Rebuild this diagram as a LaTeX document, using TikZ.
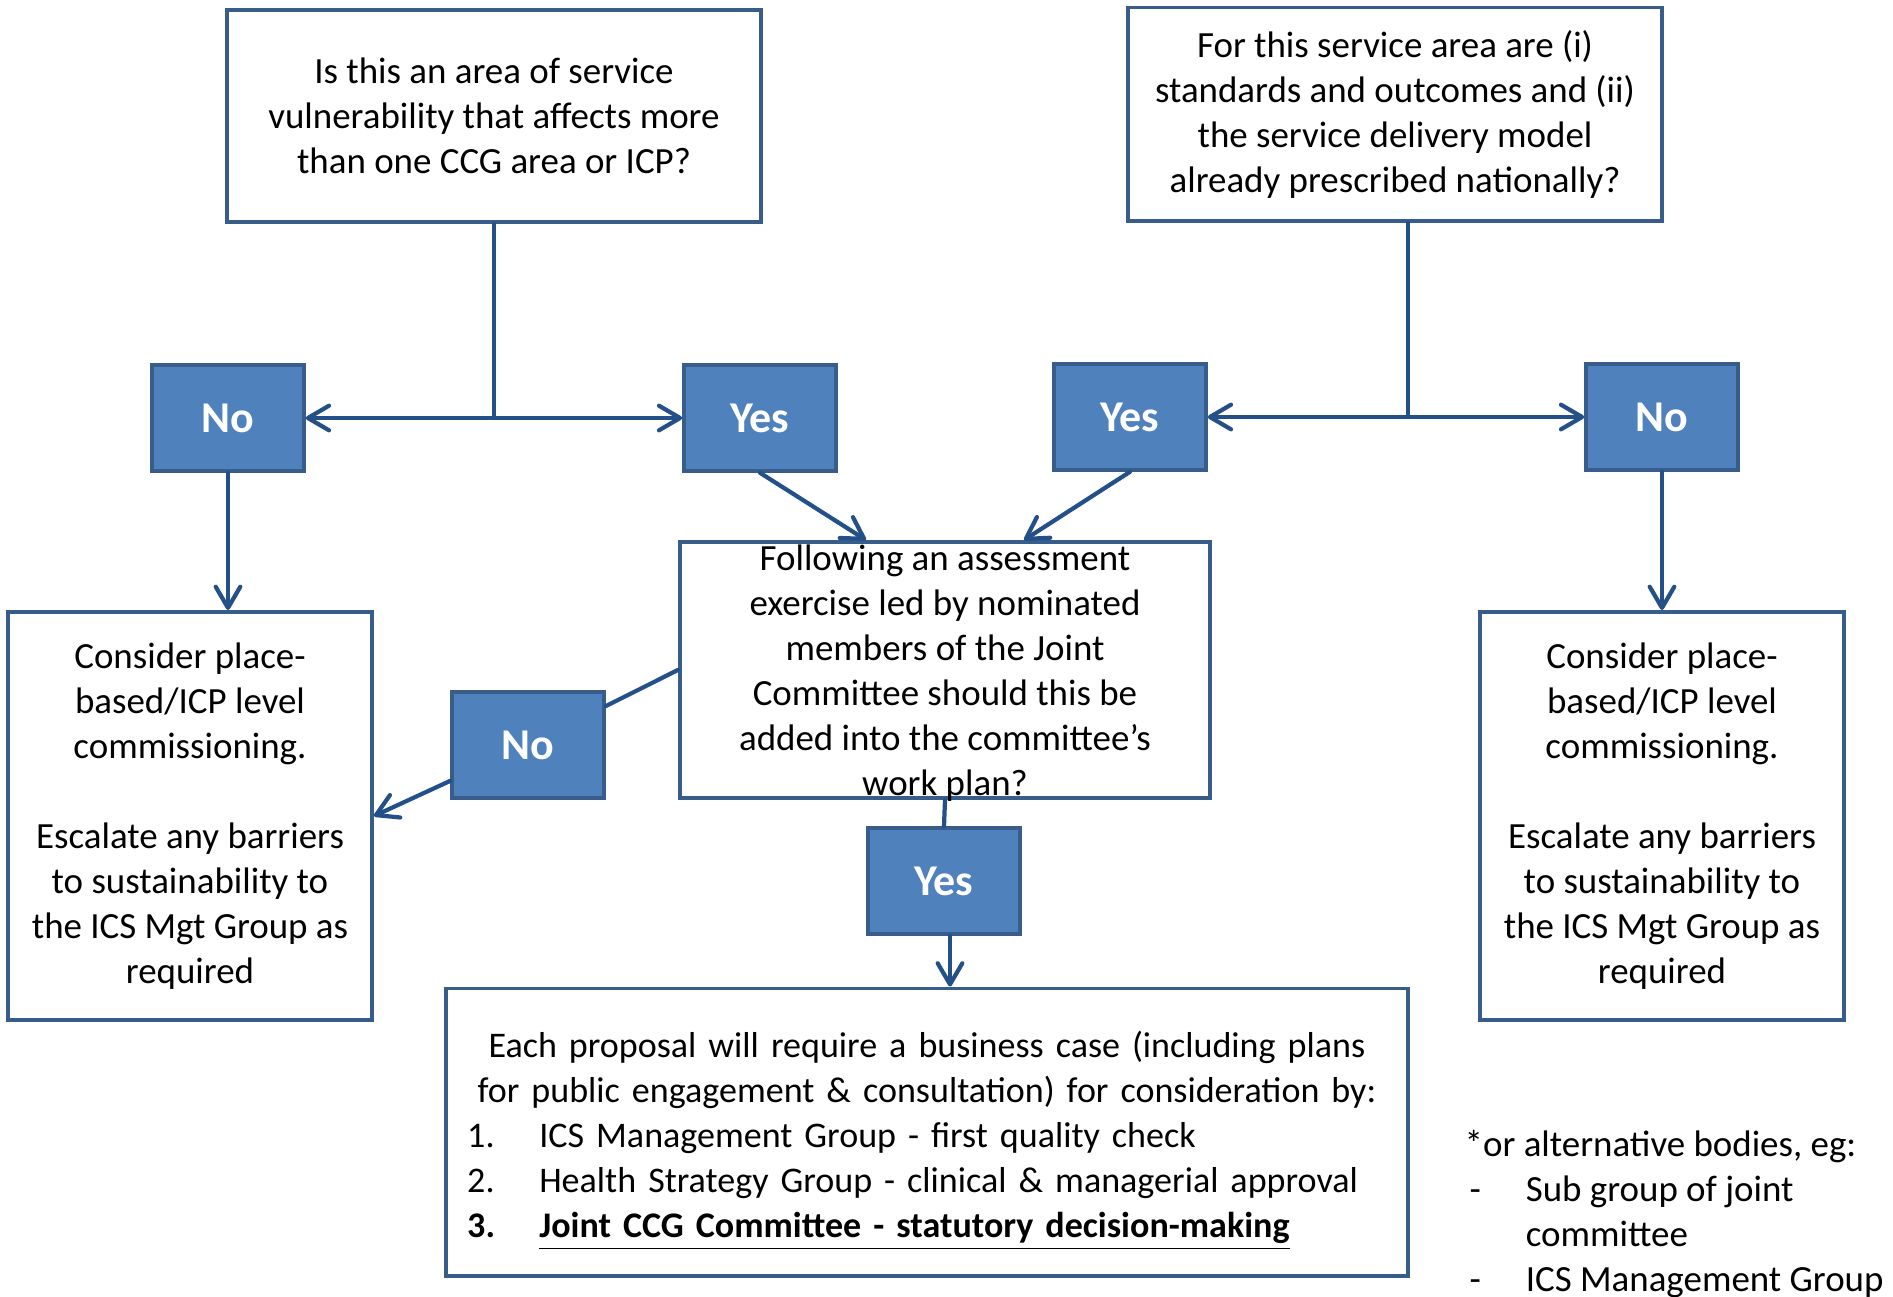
\documentclass[tikz,border=0pt]{standalone}
\usepackage{fontspec}
\setmainfont{Carlito}
\usetikzlibrary{arrows.meta}
\definecolor{boxblue}{HTML}{4F81BD}
\definecolor{edgeblue}{HTML}{385D8A}
\definecolor{arrowblue}{HTML}{24508A}

\begin{document}
\begin{tikzpicture}[x=0.01cm, y=-0.01cm,
    every node/.style={font=\fontsize{10.5}{12.8}\selectfont},
    textbox/.style={draw=edgeblue, line width=1.1pt, fill=white, align=center, inner sep=0pt},
    answer/.style={draw=edgeblue, line width=1pt, fill=boxblue, text=white,
        font=\fontsize{12.5}{14}\selectfont\bfseries,
        minimum width=1.52cm, minimum height=1.06cm, inner sep=0pt},
    link/.style={draw=arrowblue, line width=1.2pt, line cap=round},
    arr/.style={link, -{Straight Barb[length=6pt, width=7pt, round]}},
    dblarr/.style={link, {Straight Barb[length=6pt, width=7pt, round]}-{Straight Barb[length=6pt, width=7pt, round]}}]
    \useasboundingbox (0,0) rectangle (1893,1296);

    % questions at the top
    \node (vuln) [textbox, minimum width=5.33cm, minimum height=2.12cm] at (494,116)
        {Is this an area of service\\vulnerability that affects more\\than one CCG area or ICP?};
    \node (national) [textbox, minimum width=5.33cm, minimum height=2.13cm] at (1395,114)
        {For this service area are (i)\\standards and outcomes and (ii)\\the service delivery model\\already prescribed nationally?};

    % answers
    \node (noleft) [answer] at (228,418) {No};
    \node (yesleft) [answer] at (760,418) {Yes};
    \node (yesright) [answer] at (1130,417) {Yes};
    \node (noright) [answer] at (1662,417) {No};

    % assessment
    \node (assess) [textbox, minimum width=5.30cm, minimum height=2.56cm] at (945,670) {};
    \node (assesstext) [align=center] at ([yshift=-0.03cm]assess)
        {Following an assessment\\exercise led by nominated\\members of the Joint\\Committee should this be\\added into the committee’s\\work plan?};
    \node (nomid) [answer] at (528,745) {No};
    \node (yesbottom) [answer] at (944,881) {Yes};

    % outcomes
    \node (placeleft) [textbox, minimum width=3.64cm, minimum height=4.08cm] at (190,816)
        {Consider place-\\based/ICP level\\commissioning.\\[12.8pt]Escalate any barriers\\to sustainability to\\the ICS Mgt Group as\\required};
    \node (placeright) [textbox, minimum width=3.64cm, minimum height=4.08cm] at (1662,816)
        {Consider place-\\based/ICP level\\commissioning.\\[12.8pt]Escalate any barriers\\to sustainability to\\the ICS Mgt Group as\\required};
    \node (business) [textbox, minimum width=9.61cm, minimum height=2.87cm] at (927,1132) {};
    \node (businesstext) [align=left, text width=9.19cm, inner sep=0pt,
        font=\fontsize{10.25}{12.8}\selectfont] at ([yshift=-0.09cm]business)
        {\makebox[9.19cm]{Each proposal will require a business case (including plans}\\
         \makebox[9.19cm]{for public engagement \& consultation) for consideration by:}\\
         \makebox[20.5pt][l]{1.}ICS Management Group - first quality check\\
         \makebox[20.5pt][l]{2.}Health Strategy Group - clinical \& managerial approval\\
         \textbf{\makebox[20.5pt][l]{3.}\underline{Joint CCG Committee - statutory decision-making}}};

    \node (alt) [anchor=north west, align=left, inner sep=0pt] at (1464,1130)
        {*or alternative bodies, eg:\\
         \hspace*{1.4pt}\makebox[16pt][l]{-}Sub group of joint\\
         \hspace*{17.4pt}committee\\
         \hspace*{1.4pt}\makebox[16pt][l]{-}ICS Management Group};

    % connectors
    \coordinate (natfoot) at (1408,417);
    \draw [link] (vuln.south) -- (vuln.south |- noleft.east);
    \draw [dblarr] (noleft.east) -- (yesleft.west);
    \draw [link] (natfoot |- national.south) -- (natfoot);
    \draw [dblarr] (yesright.east) -- (noright.west);
    \draw [arr] (noleft.south) -- (noleft.south |- placeleft.north);
    \draw [arr] (noright.south) -- (placeright.north);
    \draw [arr] (yesleft.south) -- ([xshift=-0.79cm]assess.north);
    \draw [arr] (yesright.south) -- ([xshift=0.79cm]assess.north);
    \draw [link] (assess.west) -- (nomid);
    \draw [arr] (nomid) -- (placeleft.east);
    \draw [link] (assess.south) -- (yesbottom.north);
    \draw [arr] ([xshift=0.06cm]yesbottom.south) -- ([xshift=0.06cm]yesbottom.south |- business.north);
\end{tikzpicture}
\end{document}
